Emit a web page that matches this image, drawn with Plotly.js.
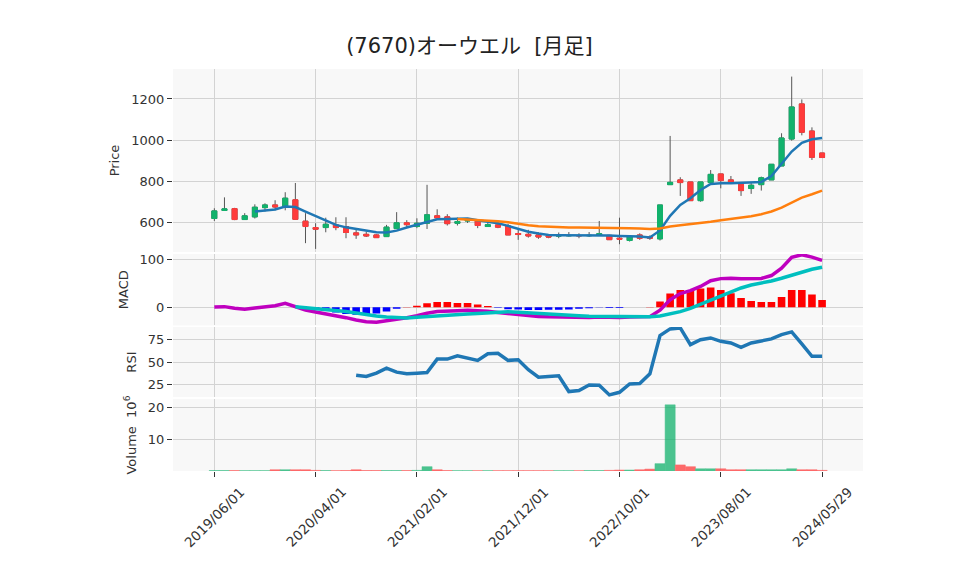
<!DOCTYPE html>
<html>
<head>
<meta charset="utf-8">
<script src="https://cdn.plot.ly/plotly-3.0.1.min.js"></script>
<style>
  body { margin: 0; background: #fff; }
  #chart { width: 958px; height: 575px; }
</style>
</head>
<body>
<div id="chart"></div>
<script>
var dates = ['2019/06/01','2019/07/01','2019/08/01','2019/09/01','2019/10/01','2019/11/01','2019/12/01','2020/01/01','2020/02/01','2020/03/01',
  '2020/04/01','2020/05/01','2020/06/01','2020/07/01','2020/08/01','2020/09/01','2020/10/01','2020/11/01','2020/12/01','2021/01/01',
  '2021/02/01','2021/03/01','2021/04/01','2021/05/01','2021/06/01','2021/07/01','2021/08/01','2021/09/01','2021/10/01','2021/11/01',
  '2021/12/01','2022/01/01','2022/02/01','2022/03/01','2022/04/01','2022/05/01','2022/06/01','2022/07/01','2022/08/01','2022/09/01',
  '2022/10/01','2022/11/01','2022/12/01','2023/01/01','2023/02/01','2023/03/01','2023/04/01','2023/05/01','2023/06/01','2023/07/01',
  '2023/08/01','2023/09/01','2023/10/01','2023/11/01','2023/12/01','2024/01/01','2024/02/01','2024/03/01','2024/04/01','2024/05/01',
  '2024/05/29'];

var open = [618,657,666,613,626,671,684,674,709,605,
  574,574,587,579,548,541,538,530,569,597,
  579,595,631,626,595,606,606,579,587,582,
  545,541,538,533,533,534,535,534,536,536,
  522,511,538,530,519,783,806,796,705,793,
  835,806,793,764,783,806,874,1005,1176,1044,
  937];
var high = [668,721,670,644,687,692,707,746,791,644,
  595,622,624,624,571,554,541,587,649,610,
  619,782,663,639,623,618,614,608,600,592,
  571,563,551,541,550,552,546,552,606,538,
  622,533,546,536,684,1020,819,796,796,854,
  835,825,793,793,822,882,1033,1309,1198,1062,
  937];
var low = [606,657,610,612,618,652,658,658,614,498,
  470,551,561,522,519,528,525,530,569,574,
  571,567,616,584,584,596,571,579,571,538,
  514,525,519,522,522,530,522,528,535,515,
  493,506,514,514,511,783,728,705,700,793,
  765,795,728,738,754,806,874,997,1023,903,
  915];
var close = [655,665,613,631,673,684,674,717,614,579,
  566,590,574,550,538,533,525,576,597,588,
  595,636,621,593,603,609,584,588,576,538,
  540,533,528,528,534,535,534,536,544,515,
  517,528,522,522,684,794,793,705,796,833,
  803,795,754,780,816,882,1010,1161,1038,916,
  915];

var ma5 = [null,null,null,null,652,658,662,676,674,652,
  629,606,587,575,567,559,551,550,559,574,
  587,603,614,616,616,618,610,603,595,582,
  567,554,545,538,537,537,537,537,538,535,
  533,532,530,526,560,631,684,717,757,786,
  790,790,793,794,796,825,887,944,987,1004,
  1010];
var ma25 = [null,null,null,null,null,null,null,null,null,null,
  null,null,null,null,null,null,null,null,null,null,
  null,null,null,null,616,614,610,608,605,600,
  592,585,580,577,575,574,574,574,572,571,
  571,571,569,567,569,579,585,590,595,602,
  610,616,623,629,639,652,671,696,720,736,
  754];

var macd = [0.6,1.3,-2.2,-4.3,-1.5,1.3,3.4,8.4,1.3,-5.7,
  -10,-13.5,-17,-22,-27,-30.4,-31.8,-29,-25.5,-22,
  -18,-12.5,-9,-7.5,-7.5,-6.5,-7.3,-8.5,-11,-13.5,
  -16,-18.2,-19.5,-20.3,-21,-21.5,-22,-21.5,-20.5,-21.5,
  -21.5,-20.5,-20.5,-19.8,-6,16,29,35,44,56,
  60.5,61.5,60,60,61,67,82.5,105.5,111,106,
  99];
var signal = [null,null,null,null,null,null,null,null,1.3,-0.5,
  -2.5,-4.5,-6.5,-9,-12,-15.5,-18.5,-20.5,-22,-22.5,
  -21,-20,-19,-17.5,-16,-14.5,-13,-11.5,-10.5,-9.5,
  -10.5,-12,-13.3,-14.5,-15.5,-16.8,-18,-19,-19.3,-19.8,
  -20,-20.2,-20.3,-20,-18.4,-14.2,-9.3,-2.2,6.2,15.4,
  24.6,33,40.8,47.1,50.6,55.6,61.2,68.3,73.9,80.2,
  84.5];
var hist = [null,null,null,null,null,null,null,null,0,-3,
  -6,-8,-11,-14,-16,-15,-13,-9,-3,0.5,
  3,8.5,11,11,9,9,5.6,2.8,-1,-4,
  -5,-6,-6,-5.5,-5.5,-4.5,-3,-2,-0.3,-1.5,
  -1.5,0,0,0.3,12,28.9,36.6,36.6,39.5,41.6,
  36.6,29.6,19.7,13.4,11.3,11.3,21.8,36.6,36.6,26.8,
  15.5];

var rsi = [null,null,null,null,null,null,null,null,null,null,
  null,null,null,null,35.7,34.2,37.9,43.4,39,37.2,
  37.9,38.6,53.3,53.3,57,54,51.9,59.2,59.6,51.9,
  52.6,41.6,33.5,34.2,34.9,17.7,18.8,25,24.6,14,
  16.9,26.1,26.5,37.1,79.1,86.4,87.5,69.1,74.6,76.5,
  72.8,71,66.2,71,72.8,75.4,80.2,83.1,69.9,56.3,
  56.3];

// volume in millions of shares
var volume = [0.15,0.15,0.15,0.1,0.1,0.1,0.4,0.4,0.4,0.4,
  0.2,0.15,0.1,0.15,0.4,0.15,0.15,0.15,0.15,0.15,
  0.2,1.35,0.4,0.15,0.1,0.1,0.1,0.1,0.1,0.1,
  0.1,0.1,0.1,0.1,0.1,0.1,0.1,0.15,0.15,0.2,
  0.3,0.3,0.4,0.6,2.3,20.7,1.9,1.35,0.7,0.7,
  0.7,0.4,0.4,0.4,0.4,0.4,0.4,0.7,0.4,0.4,
  0.2];

var tickIdx = [0, 10, 20, 30, 40, 50, 60];

var UP = '#12b26c', DOWN = '#ff3b3b';
var GRID = '#d3d3d3';
var FONT = '"DejaVu Sans", "Noto Sans CJK JP", sans-serif';

// body-only copy so the gray wick outline is hidden under the coloured box
var bodyHigh = open.map(function (o, i) { return Math.max(o, close[i]); });
var bodyLow = open.map(function (o, i) { return Math.min(o, close[i]); });

var wicks = {
  type: 'candlestick', x: dates, open: open, high: high, low: low, close: close,
  increasing: {line: {color: '#555', width: 1}, fillcolor: UP},
  decreasing: {line: {color: '#555', width: 1}, fillcolor: DOWN},
  xaxis: 'x', yaxis: 'y', showlegend: false, hoverinfo: 'none'
};
var bodies = {
  type: 'candlestick', x: dates, open: open, high: bodyHigh, low: bodyLow, close: close,
  increasing: {line: {color: UP, width: 1}, fillcolor: UP},
  decreasing: {line: {color: DOWN, width: 1}, fillcolor: DOWN},
  xaxis: 'x', yaxis: 'y', showlegend: false
};
var ma5Trace = {type: 'scatter', mode: 'lines', x: dates, y: ma5, line: {color: '#1f77b4', width: 2.5}, yaxis: 'y', showlegend: false};
var ma25Trace = {type: 'scatter', mode: 'lines', x: dates, y: ma25, line: {color: '#ff7f0e', width: 2.5}, yaxis: 'y', showlegend: false};

var histTrace = {
  type: 'bar', x: dates, y: hist, width: 0.75, yaxis: 'y2', showlegend: false,
  marker: {color: hist.map(function (v) { return v >= 0 ? '#ff0000' : '#0000ff'; })}
};
var macdTrace = {type: 'scatter', mode: 'lines', x: dates, y: macd, line: {color: '#bf00bf', width: 3.5}, yaxis: 'y2', showlegend: false};
var signalTrace = {type: 'scatter', mode: 'lines', x: dates, y: signal, line: {color: '#00bfbf', width: 3.5}, yaxis: 'y2', showlegend: false};

var rsiTrace = {type: 'scatter', mode: 'lines', x: dates, y: rsi, line: {color: '#1f77b4', width: 3.5}, yaxis: 'y3', showlegend: false};

var volColors = close.map(function (c, i) { return c >= open[i] ? UP : DOWN; });
var volTrace = {
  type: 'bar', x: dates, y: volume, width: 1, yaxis: 'y4', showlegend: false, opacity: 0.75,
  marker: {color: volColors, line: {color: volColors, width: 0.5}}
};

var yBase = {
  gridcolor: GRID, zeroline: false, ticks: 'outside', ticklen: 5, tickcolor: '#333',
  tickfont: {size: 13}, anchor: 'x'
};
function yax(extra) { return Object.assign({}, yBase, extra); }

// rotated date labels centred under their ticks
var dateLabels = tickIdx.map(function (i) {
  return {
    x: dates[i], xref: 'x', y: -0.1137, yref: 'paper', text: dates[i], showarrow: false,
    textangle: -45, xanchor: 'center', yanchor: 'middle', font: {size: 13.5, color: '#333'}
  };
});

var layout = {
  width: 958, height: 575,
  margin: {l: 173, r: 95, t: 69, b: 104},
  paper_bgcolor: '#ffffff', plot_bgcolor: '#f8f8f8',
  font: {family: FONT, color: '#333', size: 13},
  title: {text: '(7670)オーウエル  [月足]', x: 0.49, xanchor: 'center', y: 0.921, yanchor: 'middle', font: {size: 21, color: '#222'}},
  showlegend: false,
  boxmode: 'overlay',
  xaxis: {
    type: 'category', anchor: 'y4', range: [-4.08, 64.04],
    tickmode: 'array', tickvals: tickIdx.map(function (i) { return dates[i]; }),
    showticklabels: false,
    ticks: 'outside', ticklen: 5, tickcolor: '#333',
    showgrid: true, gridcolor: GRID, rangeslider: {visible: false}
  },
  yaxis: yax({domain: [0.5448, 1], range: [455, 1346], dtick: 200, title: {text: 'Price', font: {size: 13}, standoff: 8}}),
  yaxis2: yax({domain: [0.362, 0.540], range: [-38.5, 112.7], tickvals: [0, 100], title: {text: 'MACD', font: {size: 13}, standoff: 8}}),
  yaxis3: yax({domain: [0.184, 0.358], range: [11.7, 88.4], tickvals: [25, 50, 75], title: {text: 'RSI', font: {size: 13}, standoff: 8}}),
  yaxis4: yax({domain: [0, 0.179], range: [0, 22.5], tickvals: [10, 20], title: {text: 'Volume  10<sup>6</sup>', font: {size: 13}, standoff: 8}}),
  annotations: dateLabels
};

Plotly.newPlot('chart', [wicks, bodies, ma5Trace, ma25Trace, histTrace, macdTrace, signalTrace, rsiTrace, volTrace], layout, {displayModeBar: false, staticPlot: true});
</script>
</body>
</html>
